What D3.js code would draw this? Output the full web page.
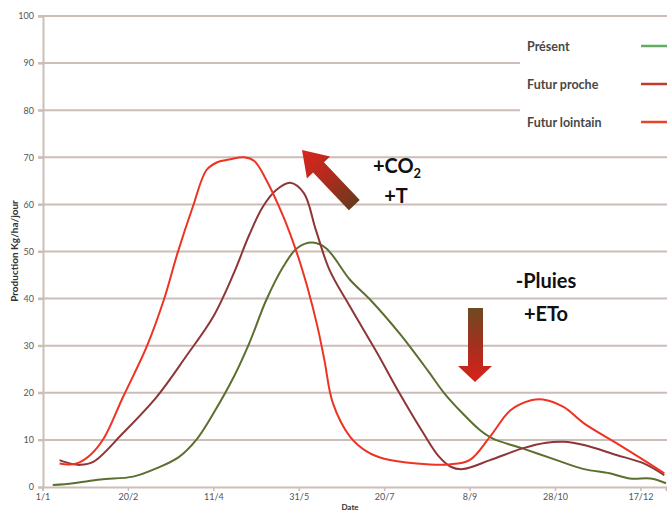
<!DOCTYPE html>
<html><head><meta charset="utf-8">
<script src="https://cdn.jsdelivr.net/npm/d3@7"></script>
<style>
body{margin:0;background:#fff;}
svg{display:block;}
text{font-family:Lato,"Open Sans",sans-serif;}
</style></head>
<body><svg id="c" width="667" height="511"></svg>
<script>
const seriesNames = ["Présent","Futur proche","Futur lointain"];
const xTickDays = [0,50,100,150,200,250,300,350];
const xTickLabels = ["1/1","20/2","11/4","31/5","20/7","8/9","28/10","17/12"];
const yTicks = [0,10,20,30,40,50,60,70,80,90,100];

const presentDays   = [6,18,34,53,67,80,90,100,112,121,131,141,149,158,166,180,192,209,226,235,246,256,264,281,301,317,332,344,356,365];
const presentVals   = [0.4,0.8,1.6,2.2,4.0,6.4,10,15.6,23.4,30.5,39.7,46.8,50.7,51.9,50.7,44,39.7,32.6,24.5,20,15.6,12.1,10.2,8.2,5.7,3.8,2.9,1.8,1.8,0.8];
const procheDays    = [10,16,22,30,47,67,84,100,112,121,129,137,145,153,160,168,180,196,209,223,232,239,246,262,281,295,305,317,336,352,364];
const procheVals    = [5.7,5.0,4.7,5.4,11.4,19.2,27.7,36.2,45.4,53.5,59.5,63.1,64.6,62.4,54.6,46.1,38.3,28.4,19.9,11.4,6.5,4.3,3.8,5.7,8.2,9.4,9.6,8.9,6.8,5.0,2.5];
const lointainDays  = [10,15,20,28,36,47,61,71,79,88,96,102,110,118,124,131,141,149,155,161,165,170,180,190,200,219,238,250,262,274,286,293,305,317,336,352,364];
const lointainVals  = [5.0,4.8,5.0,6.8,10.4,19,29.8,39.7,49.6,59.5,67.3,68.9,69.6,70.0,69.2,65.2,57.4,49.6,42.5,34,27,17.8,10.7,7.5,6.0,5.0,4.8,5.7,10.7,16.3,18.4,18.6,17.0,13.5,9.3,5.7,2.9];

const svg = d3.select("#c");
const x = d3.scaleLinear().domain([0,365]).range([42.5,666]);
const y = d3.scaleLinear().domain([0,100]).range([487,16]);
const gridCol = "#cdbdb8";

// gridlines
svg.append("g").selectAll("line").data(yTicks.filter(d=>d>0)).join("line")
  .attr("x1",38).attr("x2",667).attr("y1",d=>y(d)).attr("y2",d=>y(d))
  .attr("stroke",gridCol).attr("stroke-width",2);

// y axis
const ya = svg.append("g").attr("transform","translate(43,0)")
  .call(d3.axisLeft(y).tickValues(yTicks).tickSize(5).tickPadding(4));
ya.select(".domain").attr("stroke",gridCol).attr("stroke-width",2);
ya.selectAll(".tick line").attr("stroke",gridCol).attr("stroke-width",2);
ya.selectAll("text").attr("font-size",9).attr("fill","#555").attr("font-family","Lato,sans-serif");

// x axis
const xa = svg.append("g").attr("transform","translate(0,487)")
  .call(d3.axisBottom(x).tickValues(xTickDays).tickFormat((d,i)=>xTickLabels[i]).tickSize(4).tickPadding(3));
xa.select(".domain").attr("stroke",gridCol).attr("stroke-width",2);
xa.selectAll(".tick line").attr("stroke",gridCol).attr("stroke-width",1.5);
xa.selectAll("text").attr("font-size",9).attr("fill","#555").attr("font-family","Lato,sans-serif");

// axis titles
svg.append("text").attr("x",350).attr("y",510).attr("text-anchor","middle")
  .attr("font-size",8).attr("font-weight","bold").attr("fill","#333").text("Date");
svg.append("text").attr("transform","translate(18,251) rotate(-90)").attr("text-anchor","middle")
  .attr("font-size",10).attr("font-weight","bold").attr("fill","#333").text("Production Kg/ha/jour");

// legend background
svg.append("rect").attr("x",520).attr("y",28).attr("width",147).attr("height",112).attr("fill","#fff");

const line = d3.line().x(d=>x(d[0])).y(d=>y(d[1])).curve(d3.curveCatmullRom.alpha(0.5));
const series = [
  {days:presentDays, vals:presentVals, col:"#5b6f2e", leg:"#5fae62"},
  {days:procheDays, vals:procheVals, col:"#8e3636", leg:"#c03a2e"},
  {days:lointainDays, vals:lointainVals, col:"#ee3322", leg:"#e8442a"}
];
svg.append("clipPath").attr("id","pc").append("rect").attr("x",43).attr("y",10).attr("width",624).attr("height",480);
const lg = svg.append("g").attr("clip-path","url(#pc)");
series.forEach(s=>{
  lg.append("path").datum(s.days.map((d,i)=>[d,s.vals[i]]))
    .attr("d",line).attr("fill","none").attr("stroke",s.col).attr("stroke-width",2);
});

// legend
seriesNames.forEach((n,i)=>{
  const yy = 46 + i*38;
  svg.append("text").attr("x",527).attr("y",yy+4.5).attr("font-size",12.5).attr("font-weight","bold")
    .attr("fill","#484848").text(n);
  svg.append("line").attr("x1",641).attr("x2",667).attr("y1",yy).attr("y2",yy)
    .attr("stroke",series[i].leg).attr("stroke-width",2.5);
});

// arrows with gradients
const defs = svg.append("defs");
const g1 = defs.append("linearGradient").attr("id","ga1").attr("x1","0").attr("y1","0").attr("x2","1").attr("y2","0");
g1.append("stop").attr("offset","0").attr("stop-color","#d8261c");
g1.append("stop").attr("offset","0.45").attr("stop-color","#b62a1e");
g1.append("stop").attr("offset","1").attr("stop-color","#6a3a1c");
const g2 = defs.append("linearGradient").attr("id","ga2").attr("x1","0").attr("y1","0").attr("x2","0").attr("y2","1");
g2.append("stop").attr("offset","0").attr("stop-color","#6e4a22");
g2.append("stop").attr("offset","0.5").attr("stop-color","#a3301f");
g2.append("stop").attr("offset","1").attr("stop-color","#dc2019");

// diagonal arrow: local coords pointing along +x from tip (0,0)
const L1 = 76, H1 = 24, HW1 = 16, SW1 = 7.5;
svg.append("path")
  .attr("d",`M0,0 L${H1},${-HW1} L${H1},${-SW1} L${L1},${-SW1} L${L1},${SW1} L${H1},${SW1} L${H1},${HW1} Z`)
  .attr("transform","translate(302,150) rotate(46.5)")
  .attr("fill","url(#ga1)");

// vertical arrow
svg.append("path")
  .attr("d","M468,308 L483,308 L483,366 L492,366 L475,382 L458,366 L468,366 Z")
  .attr("fill","url(#ga2)");

// annotations
const ann = svg.append("g").attr("font-weight","bold").attr("fill","#111").attr("font-size",20).attr("text-anchor","middle");
const co = ann.append("text").attr("x",397).attr("y",173);
co.append("tspan").text("+CO");
co.append("tspan").attr("font-size",13).attr("dy",5).text("2");
ann.append("text").attr("x",396).attr("y",203).text("+T");
ann.append("text").attr("x",546).attr("y",288).text("-Pluies");
ann.append("text").attr("x",546).attr("y",321).text("+ETo");
</script></body></html>
